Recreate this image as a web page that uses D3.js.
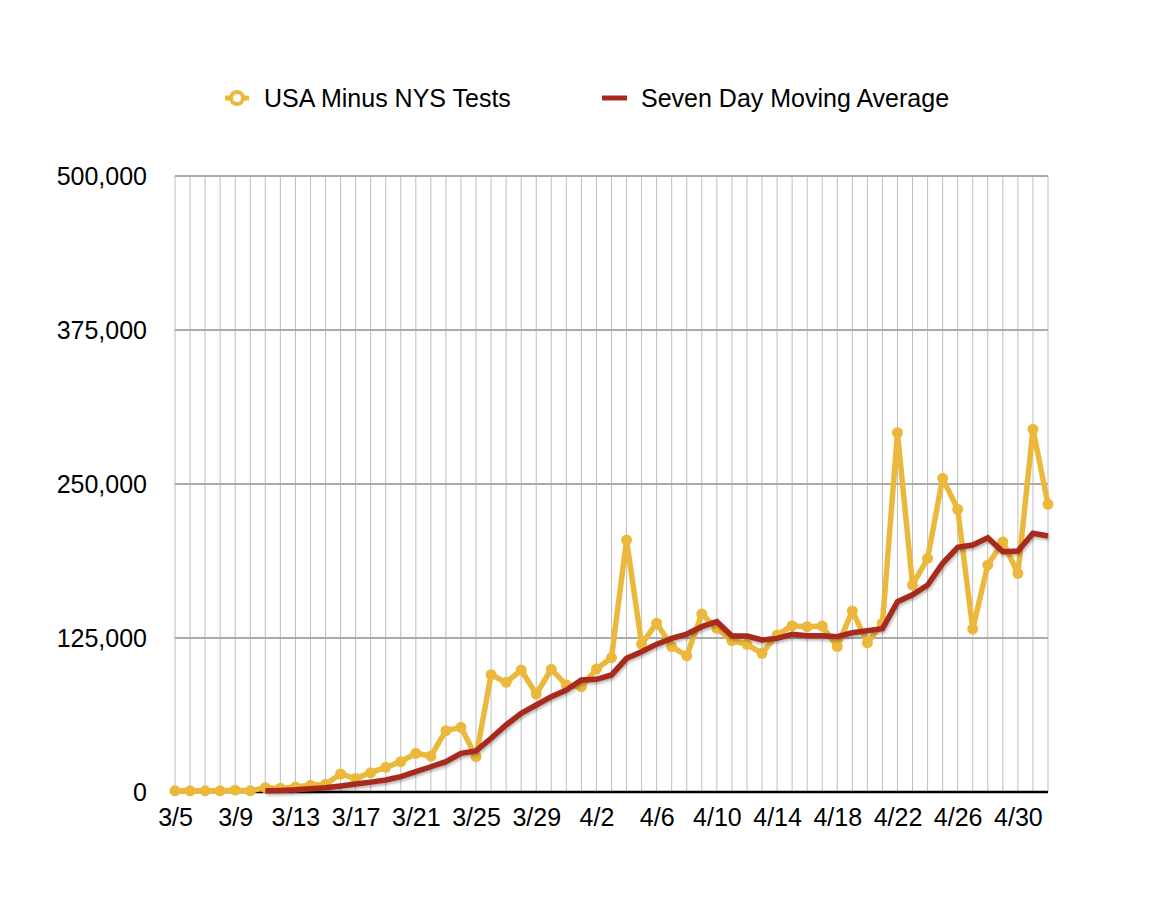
<!DOCTYPE html>
<html>
<head>
<meta charset="utf-8">
<script src="https://cdn.jsdelivr.net/npm/d3@7"></script>
<style>
  body { margin: 0; background: #fff; }
  svg text { font-family: "Liberation Sans", Arial, Helvetica, sans-serif; fill: #000; }
</style>
</head>
<body>
<div id="chart"></div>
<script>
// dates 3/5 .. 5/2
const dates = d3.range(59).map((i) => {
  let d = new Date(2020, 2, 5 + i);
  return `${d.getMonth() + 1}/${d.getDate()}`;
});

// daily tests, thousands
const tests = [
  1, 1, 1, 1, 1.5, 1, 3.5, 3, 4, 5.4,
  6.2, 14.6, 11, 15.7, 20, 24.6, 31.4, 29.2, 49.8, 52.5,
  28.7, 95.2, 89, 99, 79.5, 99.6, 86.9, 85.5, 99.8, 109,
  204.5, 120, 137, 118, 110.6, 144.5, 132.8, 122.8, 119.9, 112.6,
  127.4, 135, 134.2, 134.7, 118, 147, 121, 137, 291.6, 168,
  189.7, 254.6, 229.5, 132.3, 184.3, 203, 177.5, 294.4, 233.5
];

// seven day moving average, thousands (starts 3/11)
const avg = [
  null, null, null, null, null, null, 1, 1.3, 1.8, 2.6,
  3.5, 4.9, 6.5, 8, 9.7, 12.5, 16.5, 20.5, 24.6, 31.4,
  33.3, 43.6, 54.4, 63.9, 70.6, 77.4, 82.8, 90.9, 91.5, 95,
  108.5, 113.9, 120, 124.7, 128.2, 134.2, 138.2, 126.6, 126.6, 123.4,
  124.7, 128, 126.9, 126.9, 126, 129.3, 131, 132.5, 154.5, 160,
  168, 185.6, 198.6, 200.5, 206.4, 195, 195.6, 210, 207.8
];

const yTicks = [0, 125000, 250000, 375000, 500000];
const seriesNames = ['USA Minus NYS Tests', 'Seven Day Moving Average'];

const yellow = '#ecb83c';
const red = '#a8291b';

const width = 1170, height = 916;
const margin = { top: 176, right: 122, bottom: 124, left: 175 };

const svg = d3.select('#chart').append('svg')
  .attr('width', width)
  .attr('height', height);

const defs = svg.append('defs');
const shadow = defs.append('filter').attr('id', 'shadow')
  .attr('x', '-5%').attr('y', '-5%').attr('width', '110%').attr('height', '120%');
shadow.append('feDropShadow')
  .attr('dx', 1).attr('dy', 2).attr('stdDeviation', 1.5)
  .attr('flood-color', '#000').attr('flood-opacity', 0.3);

const x = d3.scaleLinear()
  .domain([0, dates.length - 1])
  .range([margin.left, width - margin.right]);

const y = d3.scaleLinear()
  .domain([0, 500000])
  .range([height - margin.bottom, margin.top]);

// vertical grid
svg.append('g')
  .selectAll('line')
  .data(dates)
  .enter()
  .append('line')
  .attr('x1', (d, i) => x(i))
  .attr('x2', (d, i) => x(i))
  .attr('y1', y(500000))
  .attr('y2', y(0))
  .attr('stroke', '#bdbdbd')
  .attr('stroke-width', 1);

// horizontal grid
svg.append('g')
  .selectAll('line')
  .data(yTicks.slice(1))
  .enter()
  .append('line')
  .attr('x1', x(0))
  .attr('x2', x(dates.length - 1))
  .attr('y1', (d) => y(d))
  .attr('y2', (d) => y(d))
  .attr('stroke', '#ababab')
  .attr('stroke-width', 2);

// y axis labels
const yAxis = d3.axisLeft(y)
  .tickValues(yTicks)
  .tickSize(0)
  .tickPadding(28)
  .tickFormat(d3.format(','));

svg.append('g')
  .attr('transform', `translate(${x(0)},0)`)
  .call(yAxis)
  .call((g) => g.select('.domain').remove())
  .call((g) => g.selectAll('text')
    .attr('font-size', 25)
    .attr('font-family', '"Liberation Sans", Arial, sans-serif')
    .attr('fill', '#000'));

// x axis labels
const xAxis = d3.axisBottom(x)
  .tickValues(d3.range(0, dates.length, 4))
  .tickSize(0)
  .tickPadding(16)
  .tickFormat((i) => dates[i]);

svg.append('g')
  .attr('transform', `translate(0,${y(0)})`)
  .call(xAxis)
  .call((g) => g.select('.domain').remove())
  .call((g) => g.selectAll('text')
    .attr('font-size', 25)
    .attr('font-family', '"Liberation Sans", Arial, sans-serif')
    .attr('fill', '#000'));

// baseline
svg.append('line')
  .attr('x1', x(0))
  .attr('x2', x(dates.length - 1))
  .attr('y1', y(0))
  .attr('y2', y(0))
  .attr('stroke', '#000')
  .attr('stroke-width', 2.5);

// tests line
const testPts = tests.map((v, i) => [i, v * 1000]);

const line = d3.line()
  .x((d) => x(d[0]))
  .y((d) => y(d[1]));

svg.append('path')
  .datum(testPts)
  .attr('d', line)
  .attr('fill', 'none')
  .attr('stroke', yellow)
  .attr('stroke-width', 5.5)
  .attr('stroke-linejoin', 'round');

svg.append('g')
  .selectAll('circle')
  .data(testPts)
  .enter()
  .append('circle')
  .attr('cx', (d) => x(d[0]))
  .attr('cy', (d) => y(d[1]))
  .attr('r', 5.5)
  .attr('fill', yellow);

// moving average line
const avgPts = avg
  .map((v, i) => [i, v])
  .filter((d) => d[1] !== null)
  .map((d) => [d[0], d[1] * 1000]);

svg.append('path')
  .datum(avgPts)
  .attr('d', line)
  .attr('fill', 'none')
  .attr('stroke', red)
  .attr('stroke-width', 5.5)
  .attr('stroke-linejoin', 'miter')
  .attr('filter', 'url(#shadow)');

// legend
const lg = svg.append('g').attr('class', 'legend');

lg.append('line')
  .attr('x1', 225).attr('x2', 249)
  .attr('y1', 98).attr('y2', 98)
  .attr('stroke', yellow).attr('stroke-width', 5);
lg.append('circle')
  .attr('cx', 237).attr('cy', 98).attr('r', 6)
  .attr('fill', '#fff')
  .attr('stroke', yellow).attr('stroke-width', 4);
lg.append('text')
  .attr('x', 264).attr('y', 98)
  .attr('dy', '0.35em')
  .attr('font-size', 25)
  .text(seriesNames[0]);

lg.append('line')
  .attr('x1', 602).attr('x2', 627)
  .attr('y1', 98).attr('y2', 98)
  .attr('stroke', red).attr('stroke-width', 5);
lg.append('text')
  .attr('x', 641).attr('y', 98)
  .attr('dy', '0.35em')
  .attr('font-size', 25)
  .text(seriesNames[1]);
</script>
</body>
</html>
